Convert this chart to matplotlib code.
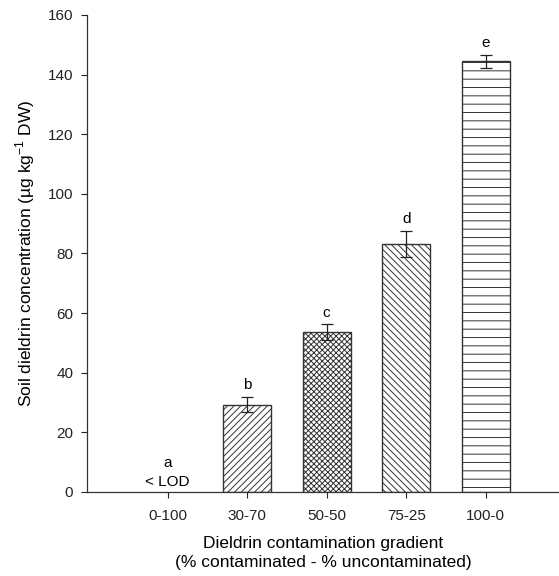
import numpy as np
import matplotlib
matplotlib.use("Agg")
import matplotlib.pyplot as plt

plt.rcParams['font.family'] = ['Liberation Sans', 'DejaVu Sans']
plt.rcParams['hatch.linewidth'] = 0.7
plt.rcParams['hatch.color'] = '#333333'

groups = ['0-100', '30-70', '50-50', '75-25', '100-0']
means = [0, 29.3, 53.6, 83.2, 144.5]
errs = [0, 2.5, 2.6, 4.4, 2.2]
letters = ['a', 'b', 'c', 'd', 'e']
hatches = ['', '/////', 'xxxxxx', '\\' * 5, '--']

fig = plt.figure(figsize=(5.59, 5.76), dpi=100)
ax = fig.add_axes([0.156, 0.146, 0.844, 0.828])

x = np.arange(len(groups))
for i in range(1, len(groups)):
    ax.bar(x[i], means[i], width=0.6, color='white', edgecolor='#333333',
           linewidth=1.0, hatch=hatches[i], zorder=2)
    ax.errorbar(x[i], means[i], yerr=errs[i], fmt='none', ecolor='#222222',
                elinewidth=0.9, capsize=4, capthick=0.9, zorder=3)
    ax.annotate(letters[i], (x[i], means[i] + errs[i]), xytext=(0, 3.5),
                textcoords='offset points', ha='center', va='bottom', fontsize=11)

# first group is below detection limit, no bar
ax.text(x[0], 7.5, letters[0], ha='center', va='bottom', fontsize=11)
ax.text(x[0], 1.0, '< LOD', ha='center', va='bottom', fontsize=11)

ax.set_xlim(-1.01, 4.92)
ax.set_ylim(0, 160)
ax.set_yticks(np.arange(0, 161, 20))
ax.set_xticks(x)
ax.set_xticklabels(groups)
ax.tick_params(axis='both', direction='out', length=4, width=0.8,
               labelsize=11, colors='#222222')
ax.tick_params(axis='x', pad=8)
ax.tick_params(axis='y', pad=6)
for s in ['top', 'right']:
    ax.spines[s].set_visible(False)
for s in ['left', 'bottom']:
    ax.spines[s].set_color('#333333')
    ax.spines[s].set_linewidth(0.9)

ax.set_ylabel('Soil dieldrin concentration (µg kg$^{\\mathregular{-1}}$ DW)', fontsize=12.5, labelpad=8)
ax.set_xlabel('Dieldrin contamination gradient\n(% contaminated - % uncontaminated)',
              fontsize=12.5, labelpad=10, linespacing=1.3)

fig.savefig('out.png', dpi=100)
